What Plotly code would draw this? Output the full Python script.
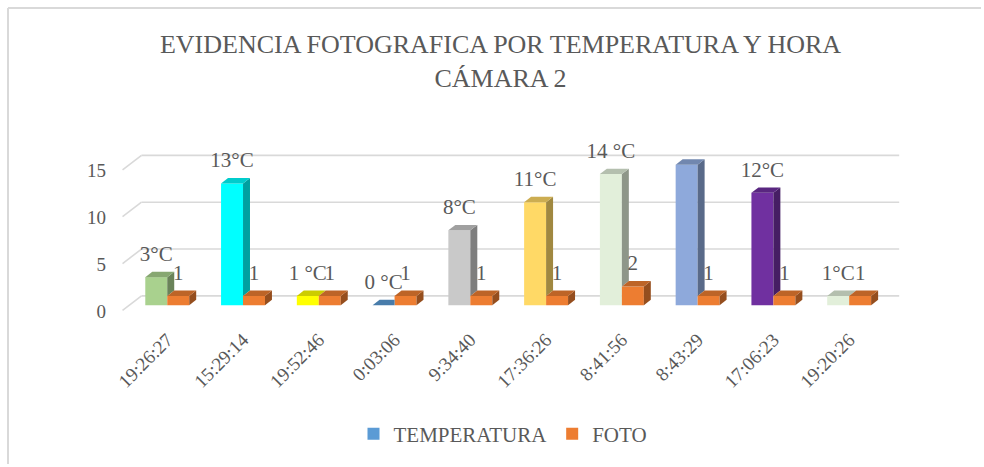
import plotly.graph_objects as go

# ---- data -------------------------------------------------------------
horas = ["19:26:27", "15:29:14", "19:52:46", "0:03:06", "9:34:40",
         "17:36:26", "8:41:56", "8:43:29", "17:06:23", "19:20:26"]
temperatura = [3, 13, 1, 0, 8, 11, 14, 15, 12, 1]
temp_labels = ["3°C", "13°C", "1 °C", "0 °C", "8°C", "11°C", "14 °C", "15°C", "12°C", "1°C"]
foto = [1, 1, 1, 1, 1, 1, 2, 1, 1, 1]
foto_labels = [str(v) for v in foto]
y_ticks = [0, 5, 10, 15]

# ---- styling ----------------------------------------------------------
temp_colors = ["#A9D18E", "#00FFFF", "#FFFF00", "#5B9BD5", "#C9C9C9",
               "#FFD966", "#E2EFDA", "#8EA9DB", "#7030A0", "#E2EFDA"]
foto_color = "#ED7D31"
legend_temp_color = "#5B9BD5"
text_color = "#595959"
grid_color = "#D9D9D9"
serif = "Liberation Serif, Times New Roman, serif"

W, H = 984, 467
ML, MR, MT, MB = 118, 78, 146, 143
X_RANGE = [-0.65, 9.75]
Y_RANGE = [-2, 17]

BAR_W = 0.29          # width of one bar front face (category units)
DX, DY = 0.092, 0.58  # depth offset of the 3-D faces (x units, y units)
SIDE_K, TOP_K = 0.63, 0.80
LABEL_OFF = 2.3       # label centre above the front top edge (y units)

# floor / back wall geometry for the gridlines
GRID_FRONT_X, GRID_BACK_X, GRID_END_X = -0.59, -0.34, 9.66
GRID_FRONT_DY, GRID_BACK_DY = -0.55, 1.0


def shade(hex_color, k):
    h = hex_color.lstrip("#")
    r, g, b = (int(h[i:i + 2], 16) for i in (0, 2, 4))
    return "#{:02X}{:02X}{:02X}".format(int(r * k), int(g * k), int(b * k))


def face(xs, ys, color):
    return go.Scatter(x=xs + [xs[0]], y=ys + [ys[0]], mode="lines", fill="toself",
                      fillcolor=color, line=dict(width=0, color=color),
                      hoverinfo="skip", showlegend=False)


idx = list(range(len(horas)))
fig = go.Figure()

# front faces
fig.add_trace(go.Bar(x=idx, y=temperatura, name="TEMPERATURA",
                     marker=dict(color=temp_colors, line=dict(width=0)),
                     customdata=horas, hovertemplate="%{customdata}: %{y}°C<extra></extra>",
                     showlegend=False))
fig.add_trace(go.Bar(x=idx, y=foto, name="FOTO",
                     marker=dict(color=foto_color, line=dict(width=0)),
                     customdata=horas, hovertemplate="%{customdata}: %{y}<extra></extra>",
                     showlegend=False))

# depth faces of the temperature columns
for i, v, f, c in zip(idx, temperatura, foto, temp_colors):
    left = i - BAR_W
    if v > f:
        fig.add_trace(face([i, i + DX, i + DX, i], [f, f + DY, v + DY, v], shade(c, SIDE_K)))
        fig.add_trace(face([left, left + DX, i + DX, i], [v, v + DY, v + DY, v], shade(c, TOP_K)))
    elif v == f:
        fig.add_trace(face([left, left + DX, i + DX, i], [v, v + DY, v + DY, v], shade(c, TOP_K)))
    else:
        fig.add_trace(face([left, left + DX, i, i], [v, v + DY, v + DY, v], shade(c, TOP_K)))

# depth faces of the photo columns
for i, f in zip(idx, foto):
    right = i + BAR_W
    fig.add_trace(face([right, right + DX, right + DX, right], [0, DY, f + DY, f],
                       shade(foto_color, SIDE_K)))
    fig.add_trace(face([i, i + DX, right + DX, right], [f, f + DY, f + DY, f],
                       shade(foto_color, TOP_K)))

# data labels
fig.add_trace(go.Scatter(x=[i - BAR_W / 2 for i in idx],
                         y=[v + LABEL_OFF for v in temperatura],
                         mode="text", text=temp_labels, textposition="middle center",
                         textfont=dict(family=serif, size=21, color=text_color),
                         cliponaxis=False, hoverinfo="skip", showlegend=False))
fig.add_trace(go.Scatter(x=[i + BAR_W / 2 for i in idx],
                         y=[f + LABEL_OFF for f in foto],
                         mode="text", text=foto_labels, textposition="middle center",
                         textfont=dict(family=serif, size=21, color=text_color),
                         cliponaxis=False, hoverinfo="skip", showlegend=False))

# legend entries
fig.add_trace(go.Scatter(x=[None], y=[None], mode="markers", name="TEMPERATURA",
                         marker=dict(symbol="square", size=11, color=legend_temp_color)))
fig.add_trace(go.Scatter(x=[None], y=[None], mode="markers", name="FOTO",
                         marker=dict(symbol="square", size=11, color=foto_color)))

# gridlines: diagonal on the floor side, then along the back wall
shapes = []
for t in y_ticks:
    shapes.append(dict(type="line", xref="x", yref="y", layer="below",
                       x0=GRID_FRONT_X, y0=t + GRID_FRONT_DY, x1=GRID_BACK_X, y1=t + GRID_BACK_DY,
                       line=dict(color=grid_color, width=1.6)))
    shapes.append(dict(type="line", xref="x", yref="y", layer="below",
                       x0=GRID_BACK_X, y0=t + GRID_BACK_DY, x1=GRID_END_X, y1=t + GRID_BACK_DY,
                       line=dict(color=grid_color, width=1.6)))

# chart frame: only its left and top edges fall inside the page
pw, ph = W - ML - MR, H - MT - MB
fx0, fy0 = 8, 8
px_left, py_top = (fx0 - ML) / pw, (H - MB - fy0) / ph
px_right, py_bottom = (W - 3 - ML) / pw, (H - MB - (H - 3)) / ph
shapes.append(dict(type="line", xref="paper", yref="paper", layer="below",
                   x0=px_left, x1=px_left, y0=py_bottom, y1=py_top,
                   line=dict(color=grid_color, width=2)))
shapes.append(dict(type="line", xref="paper", yref="paper", layer="below",
                   x0=px_left, x1=px_right, y0=py_top, y1=py_top,
                   line=dict(color=grid_color, width=2)))

fig.update_layout(
    width=W, height=H,
    margin=dict(l=ML, r=MR, t=MT, b=MB, pad=0),
    paper_bgcolor="white", plot_bgcolor="rgba(0,0,0,0)",
    barmode="group", bargap=0.42, bargroupgap=0,
    shapes=shapes,
    title=dict(text="EVIDENCIA FOTOGRAFICA POR TEMPERATURA Y HORA<br>CÁMARA 2",
               x=500.5 / W, xanchor="center", xref="container",
               y=1 - 53 / H, yanchor="middle", yref="container",
               font=dict(family=serif, size=26, color=text_color)),
    xaxis=dict(range=X_RANGE, tickvals=idx, ticktext=horas, tickangle=-45,
               showgrid=False, zeroline=False, showline=False, ticks="",
               tickfont=dict(family=serif, size=19, color=text_color)),
    yaxis=dict(range=Y_RANGE, tickvals=y_ticks, showgrid=False, zeroline=False,
               showline=False, ticks="", ticklabelshift=6, ticklabelstandoff=11,
               tickfont=dict(family=serif, size=19, color=text_color)),
    legend=dict(orientation="h", x=(503 - ML) / pw, xanchor="center",
                y=(H - MB - 434) / ph, yanchor="middle",
                font=dict(family=serif, size=21, color=text_color),
                itemsizing="constant", bgcolor="rgba(0,0,0,0)"),
    showlegend=True,
    hovermode="closest",
)

fig.write_html("out.html")
